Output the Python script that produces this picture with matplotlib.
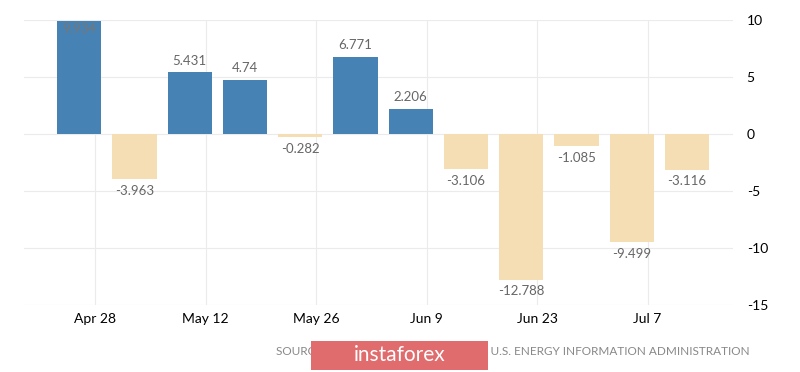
import datetime as dt
import matplotlib
matplotlib.use("Agg")
import matplotlib.pyplot as plt
import matplotlib.dates as mdates
from matplotlib.patches import Rectangle

plt.rcParams["font.family"] = ["Lato", "DejaVu Sans"]

# weekly change, bars dated on the report week
start = dt.date(2023, 4, 26)
values = [9.934, -3.963, 5.431, 4.74, -0.282, 6.771, 2.206,
          -3.106, -12.788, -1.085, -9.499, -3.116]
labels = ["9.934", "-3.963", "5.431", "4.74", "-0.282", "6.771", "2.206",
          "-3.106", "-12.788", "-1.085", "-9.499", "-3.116"]
dates = [start + dt.timedelta(days=7 * i) for i in range(len(values))]
tick_dates = [dt.date(2023, 4, 28) + dt.timedelta(days=14 * i) for i in range(6)]
tick_labels = ["Apr 28", "May 12", "May 26", "Jun 9", "Jun 23", "Jul 7"]
yticks = [10, 5, 0, -5, -10, -15]
source = "SOURCE: TRADINGECONOMICS.COM | U.S. ENERGY INFORMATION ADMINISTRATION"

blue = "#4682b4"
beige = "#f5deb3"

fig = plt.figure(figsize=(8, 3.72), dpi=100)
ax = fig.add_axes([0.03, 0.18, 0.886, 0.766])

x = mdates.date2num(dates)
cols = [blue if v >= 0 else beige for v in values]
ax.bar(x, values, width=5.6, color=cols, zorder=2)

ax.set_ylim(-15, 10)
ax.set_xlim(x[0] - 7, x[-1] + 5.8)

for xi, v, s in zip(x, values, labels):
    if v >= 9:
        ax.annotate(s, (xi, v), xytext=(0, -6), textcoords="offset points",
                    ha="center", va="center", fontsize=9.5, color="#777777")
    elif v >= 0:
        ax.annotate(s, (xi, v), xytext=(0, 4), textcoords="offset points",
                    ha="center", va="bottom", fontsize=9.5, color="#666666")
    else:
        ax.annotate(s, (xi, v), xytext=(0, -4), textcoords="offset points",
                    ha="center", va="top", fontsize=9.5, color="#666666")

ax.set_xticks(mdates.date2num(tick_dates))
ax.set_xticklabels(tick_labels)
ax.set_yticks(yticks)
ax.set_yticklabels([str(t) for t in yticks])
ax.yaxis.tick_right()
ax.tick_params(axis="both", length=0, labelsize=10, colors="black")
ax.tick_params(axis="y", pad=10)
ax.tick_params(axis="x", pad=6)
ax.grid(True, color="#ebebeb", linewidth=0.8, zorder=0)
for sp in ax.spines.values():
    sp.set_visible(False)

fig.text(0.9375, 0.054, source, ha="right", va="center", fontsize=8.5, color="#888888")
fig.patches.append(Rectangle((0.389, 0.005), 0.221, 0.078, transform=fig.transFigure,
                             facecolor="#e06c6e", edgecolor="none", zorder=5))
fig.text(0.5, 0.045, "instaforex", ha="center", va="center", fontsize=15,
         color="white", zorder=6)

fig.savefig("out.png", dpi=100)
